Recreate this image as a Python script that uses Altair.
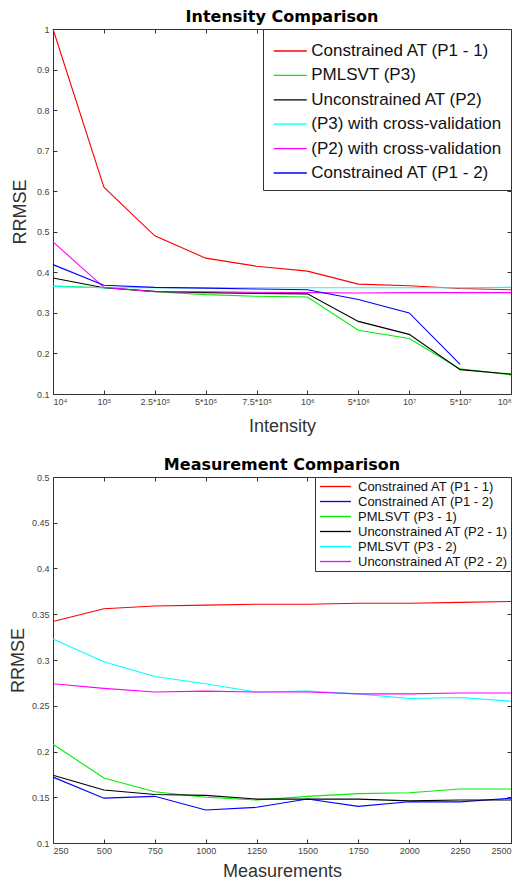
import altair as alt
import pandas as pd

# ---------- Intensity comparison data ----------
int_labels = ["10⁴", "10⁵", "2.5*10⁵", "5*10⁵", "7.5*10⁵", "10⁶", "5*10⁶", "10⁷", "5*10⁷", "10⁸"]
int_names = ["Constrained AT (P1 - 1)", "PMLSVT (P3)", "Unconstrained AT (P2)",
             "(P3) with cross-validation", "(P2) with cross-validation", "Constrained AT (P1 - 2)"]
int_colors = ["#ff0000", "#00ee00", "#000000", "#00ffff", "#ff00ff", "#0000ff"]
int_red = [1.0, 0.61, 0.49, 0.435, 0.415, 0.403, 0.371, 0.367, 0.36, 0.357]
int_green = [0.366, 0.362, 0.352, 0.345, 0.341, 0.339, 0.257, 0.237, 0.162, 0.147]
int_black = [0.386, 0.362, 0.353, 0.350, 0.348, 0.347, 0.279, 0.247, 0.160, 0.149]
int_cyan = [0.365, 0.362, 0.362, 0.362, 0.362, 0.362, 0.362, 0.362, 0.362, 0.363]
int_magenta = [0.475, 0.363, 0.352, 0.352, 0.351, 0.350, 0.349, 0.350, 0.350, 0.350]
int_blue = [0.419, 0.368, 0.363, 0.361, 0.359, 0.357, 0.333, 0.300, 0.173, None]
int_ticks = [0.1, 0.2, 0.3, 0.4, 0.5, 0.6, 0.7, 0.8, 0.9, 1.0]

# ---------- Measurement comparison data ----------
meas_x = [250, 500, 750, 1000, 1250, 1500, 1750, 2000, 2250, 2500]
meas_names = ["Constrained AT (P1 - 1)", "Constrained AT (P1 - 2)", "PMLSVT (P3 - 1)",
              "Unconstrained AT (P2 - 1)", "PMLSVT (P3 - 2)", "Unconstrained AT (P2 - 2)"]
meas_colors = ["#ff0000", "#0000ff", "#00ee00", "#000000", "#00ffff", "#ff00ff"]
m_red = [0.342, 0.356, 0.359, 0.360, 0.361, 0.361, 0.362, 0.362, 0.363, 0.364]
m_blue = [0.172, 0.149, 0.151, 0.136, 0.139, 0.148, 0.140, 0.145, 0.145, 0.149]
m_green = [0.208, 0.171, 0.156, 0.150, 0.147, 0.151, 0.154, 0.155, 0.159, 0.159]
m_black = [0.174, 0.158, 0.153, 0.152, 0.148, 0.148, 0.148, 0.146, 0.147, 0.147]
m_cyan = [0.323, 0.298, 0.282, 0.274, 0.265, 0.266, 0.263, 0.258, 0.259, 0.255]
m_magenta = [0.274, 0.269, 0.265, 0.266, 0.265, 0.265, 0.263, 0.263, 0.264, 0.264]
meas_ticks = [0.1, 0.15, 0.2, 0.25, 0.3, 0.35, 0.4, 0.45, 0.5]

FONT = "Liberation Sans"
TITLE_FONT = "DejaVu Sans"
W = 458
H = 365

rows = []
for name, vals in zip(int_names, [int_red, int_green, int_black, int_cyan, int_magenta, int_blue]):
    for i, v in enumerate(vals):
        if v is not None:
            rows.append({"idx": i, "val": v, "series": name})
df_int = pd.DataFrame(rows)

rows = []
for name, vals in zip(meas_names, [m_red, m_blue, m_green, m_black, m_cyan, m_magenta]):
    for x, v in zip(meas_x, vals):
        rows.append({"m": x, "val": v, "series": name})
df_meas = pd.DataFrame(rows)

label_expr = "[" + ",".join("'" + s + "'" for s in int_labels) + "][datum.value]"

tick_common = dict(offset=-4, tickSize=4, tickColor="#333", domain=False, grid=False)
mirror_common = dict(labels=False, title=None, minExtent=0, maxExtent=0, **tick_common)

# ---------- top chart ----------
xs_int = alt.Scale(domain=[0, 9], nice=False, zero=False)
ys_int = alt.Scale(domain=[0.1, 1.0], nice=False, zero=False)

top_lines = alt.Chart(df_int).mark_line(strokeWidth=1.1).encode(
    x=alt.X("idx:Q", scale=xs_int,
            axis=alt.Axis(values=list(range(10)), labelExpr=label_expr, title="Intensity",
                          labelPadding=3, titlePadding=11, **tick_common)),
    y=alt.Y("val:Q", scale=ys_int,
            axis=alt.Axis(values=int_ticks, format="~g", title="RRMSE",
                          labelPadding=4, titlePadding=7, **tick_common)),
    color=alt.Color("series:N", scale=alt.Scale(domain=int_names, range=int_colors),
                    legend=alt.Legend(title=None, orient="top-right", offset=0,
                                      strokeColor="#333", fillColor="white", padding=9,
                                      labelFontSize=17, labelFont=FONT, labelColor="#111",
                                      symbolType="M-1.35,0H1.35", symbolSize=600,
                                      symbolStrokeWidth=1.3, symbolOffset=5.25, labelOffset=8,
                                      rowPadding=3.4, labelLimit=400)),
)
top_mirror = alt.Chart(df_int).mark_point(opacity=0).encode(
    x=alt.X("idx:Q", scale=xs_int,
            axis=alt.Axis(orient="top", values=list(range(10)), **mirror_common)),
    y=alt.Y("val:Q", scale=ys_int,
            axis=alt.Axis(orient="right", values=int_ticks, **mirror_common)),
)
top = alt.layer(top_lines, top_mirror).resolve_axis(x="independent", y="independent").properties(
    width=W, height=H,
    title=alt.TitleParams("Intensity Comparison", font=TITLE_FONT, fontSize=16, fontWeight="bold",
                          anchor="middle", offset=0, color="#000"),
)

# ---------- bottom chart ----------
xs_m = alt.Scale(domain=[250, 2500], nice=False, zero=False)
ys_m = alt.Scale(domain=[0.1, 0.5], nice=False, zero=False)

bot_lines = alt.Chart(df_meas).mark_line(strokeWidth=1.1).encode(
    x=alt.X("m:Q", scale=xs_m,
            axis=alt.Axis(values=meas_x, format="d", title="Measurements",
                          labelPadding=3, titlePadding=7, **tick_common)),
    y=alt.Y("val:Q", scale=ys_m,
            axis=alt.Axis(values=meas_ticks, format="~g", title="RRMSE",
                          labelPadding=4, titlePadding=4, **tick_common)),
    color=alt.Color("series:N", scale=alt.Scale(domain=meas_names, range=meas_colors),
                    legend=alt.Legend(title=None, orient="top-right", offset=0,
                                      strokeColor="#333", fillColor="white", padding=2,
                                      labelFontSize=13, labelFont=FONT, labelColor="#111",
                                      symbolType="M-2.38,0H2.38", symbolSize=169,
                                      symbolStrokeWidth=1.3, symbolOffset=11, labelOffset=15,
                                      rowPadding=0, labelLimit=400)),
)
bot_mirror = alt.Chart(df_meas).mark_point(opacity=0).encode(
    x=alt.X("m:Q", scale=xs_m,
            axis=alt.Axis(orient="top", values=meas_x, **mirror_common)),
    y=alt.Y("val:Q", scale=ys_m,
            axis=alt.Axis(orient="right", values=meas_ticks, **mirror_common)),
)
bottom = alt.layer(bot_lines, bot_mirror).resolve_axis(x="independent", y="independent").properties(
    width=W, height=H + 1,
    title=alt.TitleParams("Measurement Comparison", font=TITLE_FONT, fontSize=16, fontWeight="bold",
                          anchor="middle", offset=0, color="#000"),
)

chart = alt.vconcat(top, bottom, spacing=20).resolve_scale(color="independent").properties(
    padding=0
).configure_view(
    stroke="#333", strokeWidth=1
).configure_axis(
    labelFont=FONT, labelFontSize=9, labelColor="#444",
    titleFont=FONT, titleFontSize=18, titleFontWeight="normal", titleColor="#333",
)

chart.save("out.html", embed_options={"renderer": "svg", "actions": False})
